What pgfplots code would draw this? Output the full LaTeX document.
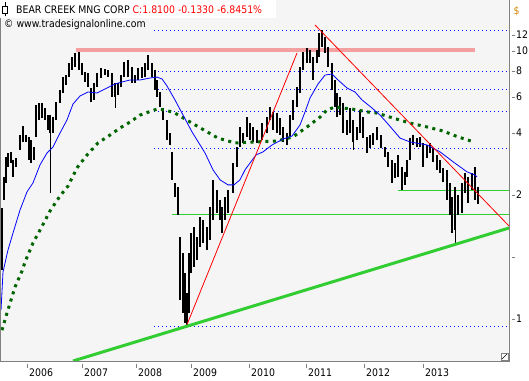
\documentclass[border=0pt]{standalone}
\usepackage{fontspec}
\setmainfont{DejaVu Sans Condensed}
\usepackage{pgfplots}
\pgfplotsset{compat=1.18}
\definecolor{bg}{RGB}{245,245,245}
\definecolor{salmonline}{RGB}{245,160,160}
\definecolor{lgreen}{RGB}{50,205,50}
\definecolor{dgreen}{RGB}{0,100,0}
\definecolor{axgray}{RGB}{128,128,128}
\definecolor{dollar}{RGB}{204,136,0}
\begin{document}
\begin{tikzpicture}[x=1pt,y=1pt,font=\fontsize{10.4}{12}\selectfont]
\useasboundingbox (0,-19) rectangle (529,361);
\begin{axis}[
  at={(0,0)}, anchor=south west,
  width=509pt, height=361pt, scale only axis,
  xmin=2005.523, xmax=2014.520,
  ymode=log, ymin=0.3124, ymax=17.71,
  axis background/.style={fill=bg},
  axis line style={draw=none},
  unbounded coords=jump,
  tick align=outside, major tick length=4pt,
  xtick pos=left, ytick pos=right,
  yticklabel pos=right,
  yminorticks=false, xminorticks=false,
  xtick={2006,2006.973,2007.927,2008.899,2009.924,2010.931,2011.957,2013},
  xticklabels={2006,2007,2008,2009,2010,2011,2012,2013},
  ytick={0.5,1,2,4,6,8,10,12},
  yticklabels={1,,2,4,6,8,10,12},
  xtick style={draw=axgray, yshift=-3pt},
  ytick style={draw=axgray, xshift=2.5pt},
  xticklabel style={anchor=north west, inner sep=0pt, xshift=2pt, yshift=-4pt},
  yticklabel style={anchor=west, inner sep=0pt, xshift=3pt},
  tick label style={font=\fontsize{10.4}{12}\selectfont},
  /pgf/number format/assume math mode=true,
]
% fibonacci dotted levels
\addplot[blue, line width=0.8pt, dash pattern=on 0.8pt off 3.2pt] coordinates {(2008.245,12.57)(2014.52,12.57)};
\addplot[blue, line width=0.8pt, dash pattern=on 0.8pt off 3.2pt] coordinates {(2008.245,7.96)(2014.52,7.96)};
\addplot[blue, line width=0.8pt, dash pattern=on 0.8pt off 3.2pt] coordinates {(2008.245,6.51)(2014.52,6.51)};
\addplot[blue, line width=0.8pt, dash pattern=on 0.8pt off 3.2pt] coordinates {(2008.245,5.12)(2014.52,5.12)};
\addplot[blue, line width=0.8pt, dash pattern=on 0.8pt off 3.2pt] coordinates {(2008.245,3.35)(2014.52,3.35)};
\addplot[blue, line width=0.8pt, dash pattern=on 0.8pt off 3.2pt] coordinates {(2008.245,0.462)(2014.52,0.462)};
% resistance / support
\addplot[salmonline, line width=3.5pt] coordinates {(2006.866,10.1)(2013.920,10.1)};
\addplot[lgreen, line width=1pt] coordinates {(2012.558,2.11)(2014.52,2.11)};
\addplot[lgreen, line width=1pt] coordinates {(2008.563,1.60)(2014.52,1.60)};
% price bars (low, high)
\addplot[black, line width=2.8pt, line cap=butt] coordinates {
(2005.558,0.864)(2005.558,1.73)(2005.558,nan)
(2005.594,1.89)(2005.594,2.45)(2005.594,nan)
(2005.629,2.29)(2005.629,3.06)(2005.629,nan)
(2005.664,2.74)(2005.664,3.20)(2005.664,nan)
(2005.717,2.86)(2005.717,3.24)(2005.717,nan)
(2005.753,2.45)(2005.753,2.96)(2005.753,nan)
(2005.806,2.74)(2005.806,3.03)(2005.806,nan)
(2005.877,3.31)(2005.877,3.91)(2005.877,nan)
(2005.930,3.62)(2005.930,4.33)(2005.930,nan)
(2005.983,3.62)(2005.983,3.91)(2005.983,nan)
(2006.036,2.96)(2006.036,3.83)(2006.036,nan)
(2006.071,2.86)(2006.071,3.70)(2006.071,nan)
(2006.124,2.96)(2006.124,3.42)(2006.124,nan)
(2006.159,3.83)(2006.159,5.47)(2006.159,nan)
(2006.212,4.63)(2006.212,5.60)(2006.212,nan)
(2006.265,4.73)(2006.265,5.60)(2006.265,nan)
(2006.318,4.63)(2006.318,5.29)(2006.318,nan)
(2006.372,4.14)(2006.372,4.89)(2006.372,nan)
(2006.407,4.00)(2006.407,4.89)(2006.407,nan)
(2006.460,4.00)(2006.460,4.78)(2006.460,nan)
(2006.513,4.63)(2006.513,5.66)(2006.513,nan)
(2006.584,5.60)(2006.584,6.47)(2006.584,nan)
(2006.637,6.26)(2006.637,7.48)(2006.637,nan)
(2006.690,6.85)(2006.690,7.65)(2006.690,nan)
(2006.743,7.48)(2006.743,8.76)(2006.743,nan)
(2006.796,8.10)(2006.796,9.37)(2006.796,nan)
(2006.849,8.37)(2006.849,9.79)(2006.849,nan)
(2006.919,8.10)(2006.919,9.90)(2006.919,nan)
(2006.973,7.65)(2006.973,8.76)(2006.973,nan)
(2007.026,7.08)(2007.026,7.92)(2007.026,nan)
(2007.079,6.69)(2007.079,7.83)(2007.079,nan)
(2007.132,5.66)(2007.132,6.62)(2007.132,nan)
(2007.185,5.79)(2007.185,7.00)(2007.185,nan)
(2007.238,6.69)(2007.238,7.83)(2007.238,nan)
(2007.308,7.40)(2007.308,8.28)(2007.308,nan)
(2007.379,7.65)(2007.379,8.19)(2007.379,nan)
(2007.432,7.48)(2007.432,8.10)(2007.432,nan)
(2007.503,5.99)(2007.503,7.83)(2007.503,nan)
(2007.556,5.99)(2007.556,7.00)(2007.556,nan)
(2007.609,6.12)(2007.609,7.00)(2007.609,nan)
(2007.662,6.69)(2007.662,7.65)(2007.662,nan)
(2007.715,7.48)(2007.715,8.86)(2007.715,nan)
(2007.786,7.48)(2007.786,9.05)(2007.786,nan)
(2007.856,7.00)(2007.856,8.37)(2007.856,nan)
(2007.909,7.00)(2007.909,7.65)(2007.909,nan)
(2007.962,7.24)(2007.962,8.28)(2007.962,nan)
(2008.033,7.40)(2008.033,8.37)(2008.033,nan)
(2008.086,7.48)(2008.086,8.76)(2008.086,nan)
(2008.139,8.10)(2008.139,9.58)(2008.139,nan)
(2008.210,7.48)(2008.210,8.76)(2008.210,nan)
(2008.263,6.47)(2008.263,8.10)(2008.263,nan)
(2008.298,5.99)(2008.298,7.24)(2008.298,nan)
(2008.351,5.35)(2008.351,6.33)(2008.351,nan)
(2008.404,4.63)(2008.404,5.29)(2008.404,nan)
(2008.475,3.70)(2008.475,4.63)(2008.475,nan)
(2008.528,3.50)(2008.528,4.00)(2008.528,nan)
(2008.563,2.37)(2008.563,3.24)(2008.563,nan)
(2008.616,1.96)(2008.616,2.29)(2008.616,nan)
(2008.670,1.60)(2008.670,2.19)(2008.670,nan)
(2008.705,0.617)(2008.705,1.25)(2008.705,nan)
(2008.758,0.534)(2008.758,1.045)(2008.758,nan)
(2008.793,0.478)(2008.793,0.836)(2008.793,nan)
(2008.829,0.457)(2008.829,0.668)(2008.829,nan)
(2008.864,0.534)(2008.864,1.045)(2008.864,nan)
(2008.899,0.836)(2008.899,1.31)(2008.899,nan)
(2008.952,0.894)(2008.952,1.40)(2008.952,nan)
(2009.005,0.966)(2009.005,1.25)(2009.005,nan)
(2009.058,1.12)(2009.058,1.56)(2009.058,nan)
(2009.111,1.17)(2009.111,1.51)(2009.111,nan)
(2009.182,1.08)(2009.182,1.40)(2009.182,nan)
(2009.235,1.21)(2009.235,1.75)(2009.235,nan)
(2009.288,1.51)(2009.288,2.37)(2009.288,nan)
(2009.359,1.63)(2009.359,2.12)(2009.359,nan)
(2009.412,1.51)(2009.412,1.89)(2009.412,nan)
(2009.447,1.31)(2009.447,1.75)(2009.447,nan)
(2009.500,1.51)(2009.500,1.96)(2009.500,nan)
(2009.553,1.63)(2009.553,2.12)(2009.553,nan)
(2009.642,2.05)(2009.642,2.86)(2009.642,nan)
(2009.712,2.74)(2009.712,3.42)(2009.712,nan)
(2009.765,3.42)(2009.765,4.28)(2009.765,nan)
(2009.818,3.58)(2009.818,4.00)(2009.818,nan)
(2009.889,3.83)(2009.889,4.78)(2009.889,nan)
(2009.942,3.70)(2009.942,4.47)(2009.942,nan)
(2009.995,3.62)(2009.995,4.28)(2009.995,nan)
(2010.066,3.58)(2010.066,4.14)(2010.066,nan)
(2010.154,3.70)(2010.154,4.47)(2010.154,nan)
(2010.243,4.00)(2010.243,4.78)(2010.243,nan)
(2010.296,4.63)(2010.296,5.35)(2010.296,nan)
(2010.349,4.14)(2010.349,5.06)(2010.349,nan)
(2010.420,4.00)(2010.420,5.00)(2010.420,nan)
(2010.473,3.91)(2010.473,4.73)(2010.473,nan)
(2010.526,3.62)(2010.526,4.28)(2010.526,nan)
(2010.596,3.50)(2010.596,4.00)(2010.596,nan)
(2010.649,3.83)(2010.649,4.89)(2010.649,nan)
(2010.702,4.63)(2010.702,5.79)(2010.702,nan)
(2010.773,5.35)(2010.773,6.69)(2010.773,nan)
(2010.826,6.26)(2010.826,8.37)(2010.826,nan)
(2010.879,8.10)(2010.879,9.90)(2010.879,nan)
(2010.950,8.76)(2010.950,10.35)(2010.950,nan)
(2011.003,8.76)(2011.003,10.13)(2011.003,nan)
(2011.056,7.24)(2011.056,9.37)(2011.056,nan)
(2011.127,8.76)(2011.127,10.13)(2011.127,nan)
(2011.162,9.37)(2011.162,12.24)(2011.162,nan)
(2011.215,10.47)(2011.215,12.66)(2011.215,nan)
(2011.268,9.79)(2011.268,11.70)(2011.268,nan)
(2011.321,8.37)(2011.321,10.47)(2011.321,nan)
(2011.392,6.47)(2011.392,8.76)(2011.392,nan)
(2011.445,5.35)(2011.445,7.24)(2011.445,nan)
(2011.480,4.78)(2011.480,6.26)(2011.480,nan)
(2011.533,4.89)(2011.533,5.99)(2011.533,nan)
(2011.586,4.00)(2011.586,5.60)(2011.586,nan)
(2011.657,3.91)(2011.657,4.63)(2011.657,nan)
(2011.710,4.00)(2011.710,5.29)(2011.710,nan)
(2011.763,3.60)(2011.763,4.63)(2011.763,nan)
(2011.834,3.70)(2011.834,4.28)(2011.834,nan)
(2011.887,4.00)(2011.887,5.18)(2011.887,nan)
(2011.940,3.78)(2011.940,4.78)(2011.940,nan)
(2012.010,3.20)(2012.010,3.83)(2012.010,nan)
(2012.063,3.38)(2012.063,3.91)(2012.063,nan)
(2012.117,3.50)(2012.117,4.00)(2012.117,nan)
(2012.187,3.70)(2012.187,4.28)(2012.187,nan)
(2012.258,3.38)(2012.258,3.91)(2012.258,nan)
(2012.329,3.06)(2012.329,3.42)(2012.329,nan)
(2012.382,2.74)(2012.382,3.24)(2012.382,nan)
(2012.452,2.29)(2012.452,2.96)(2012.452,nan)
(2012.505,2.42)(2012.505,2.86)(2012.505,nan)
(2012.558,2.45)(2012.558,3.13)(2012.558,nan)
(2012.629,2.12)(2012.629,2.74)(2012.629,nan)
(2012.682,2.24)(2012.682,2.59)(2012.682,nan)
(2012.718,2.45)(2012.718,2.96)(2012.718,nan)
(2012.771,2.96)(2012.771,3.78)(2012.771,nan)
(2012.824,3.50)(2012.824,3.91)(2012.824,nan)
(2012.894,3.42)(2012.894,3.78)(2012.894,nan)
(2012.947,3.42)(2012.947,3.83)(2012.947,nan)
(2013.000,2.74)(2013.000,3.58)(2013.000,nan)
(2013.071,3.03)(2013.071,3.50)(2013.071,nan)
(2013.124,3.20)(2013.124,3.58)(2013.124,nan)
(2013.177,2.90)(2013.177,3.38)(2013.177,nan)
(2013.248,2.65)(2013.248,3.13)(2013.248,nan)
(2013.301,2.56)(2013.301,2.96)(2013.301,nan)
(2013.354,2.31)(2013.354,2.71)(2013.354,nan)
(2013.425,1.89)(2013.425,2.65)(2013.425,nan)
(2013.478,1.60)(2013.478,2.29)(2013.478,nan)
(2013.513,1.31)(2013.513,1.96)(2013.513,nan)
(2013.566,1.35)(2013.566,2.19)(2013.566,nan)
(2013.619,1.60)(2013.619,2.00)(2013.619,nan)
(2013.690,1.63)(2013.690,2.29)(2013.690,nan)
(2013.743,2.05)(2013.743,2.56)(2013.743,nan)
(2013.796,1.83)(2013.796,2.45)(2013.796,nan)
(2013.867,2.12)(2013.867,2.56)(2013.867,nan)
(2013.920,1.89)(2013.920,2.74)(2013.920,nan)
(2013.973,1.81)(2013.973,2.19)(2013.973,nan)
};
% thin wicks
\addplot[black, line width=0.8pt] coordinates {
(2006.407,2.05)(2006.407,4.00)(2006.407,nan)
(2007.556,5.29)(2007.556,5.99)(2007.556,nan)
(2011.763,3.31)(2011.763,3.60)(2011.763,nan)
(2013.566,1.17)(2013.566,1.35)(2013.566,nan)
};
% long moving average (dotted dark green)
\addplot[dgreen, line width=3pt, dash pattern=on 3pt off 4.5pt] coordinates {
(2005.558,0.441)(2005.647,0.535)(2005.735,0.640)(2005.788,0.714)(2005.912,0.855)(2005.965,0.945)(2006.106,1.169)(2006.248,1.38)(2006.407,1.672)(2006.584,1.98)(2006.725,2.21)(2006.884,2.71)(2007.061,3.13)(2007.255,3.58)(2007.467,3.91)(2007.644,4.23)(2007.821,4.52)(2007.998,4.89)(2008.298,5.23)(2008.440,5.18)(2008.616,5.00)(2008.970,4.38)(2009.376,3.78)(2009.677,3.58)(2010.030,3.62)(2010.420,3.66)(2010.702,3.83)(2010.950,4.28)(2011.180,4.78)(2011.303,5.18)(2011.445,5.35)(2011.586,5.29)(2011.745,5.23)(2012.028,5.06)(2012.187,5.00)(2012.470,4.73)(2012.771,4.47)(2013.071,4.28)(2013.354,4.09)(2013.619,3.83)(2013.902,3.62)
};
% short moving average (blue)
\addplot[blue, line width=0.8pt] coordinates {
(2005.541,0.552)(2005.576,0.845)(2005.664,1.081)(2005.753,1.307)(2005.877,1.691)(2006.000,2.07)(2006.106,2.29)(2006.230,2.80)(2006.354,3.20)(2006.460,3.42)(2006.584,4.00)(2006.707,4.63)(2006.813,5.53)(2006.937,6.05)(2007.079,6.33)(2007.238,6.26)(2007.414,6.62)(2007.556,6.92)(2007.680,7.08)(2007.821,7.24)(2007.998,7.24)(2008.175,7.40)(2008.298,7.48)(2008.387,7.32)(2008.475,6.77)(2008.616,5.79)(2008.758,4.89)(2008.917,4.05)(2009.147,3.20)(2009.288,2.65)(2009.412,2.37)(2009.553,2.24)(2009.659,2.24)(2009.765,2.37)(2009.854,2.65)(2009.942,2.86)(2010.048,3.13)(2010.172,3.24)(2010.331,3.50)(2010.526,3.74)(2010.685,3.87)(2010.826,4.38)(2010.914,5.06)(2011.003,5.92)(2011.144,6.92)(2011.268,7.65)(2011.392,7.74)(2011.498,7.24)(2011.657,6.62)(2011.798,6.33)(2011.922,5.79)(2012.099,5.29)(2012.240,4.89)(2012.382,4.42)(2012.594,3.78)(2012.771,3.62)(2013.071,3.50)(2013.301,3.24)(2013.531,2.90)(2013.778,2.59)(2013.920,2.50)(2013.955,2.45)
};
% trend lines
\addplot[red, line width=0.8pt] coordinates {(2008.811,0.457)(2010.773,9.79)};
\addplot[red, line width=0.8pt] coordinates {(2011.091,13.39)(2014.52,1.414)};
\addplot[lgreen, line width=3pt] coordinates {(2006.813,0.3124)(2014.52,1.383)};
\end{axis}
% frame
\draw[axgray, line width=1pt] (0.5,361) -- (0.5,0) -- (509.5,0) -- (509.5,361);
% header
\fill[white] (0,343) rectangle (276,361);
\draw[black, line width=0.8pt] (5,344.5) -- (5,358.5);
\filldraw[fill=white, draw=black, line width=0.8pt] (2.5,348) rectangle (7.5,355);
\node[anchor=west, inner sep=0pt] at (16,351) {BEAR CREEK MNG CORP \textcolor{red}{C:1.8100 -0.1330 -6.8451\%}};
\node[anchor=west, inner sep=0pt] at (4,336) {© www.tradesignalonline.com};
\node[text=dollar, inner sep=0pt] at (516.5,350) {\$};
% resize grip
\filldraw[fill=white, draw=axgray, line width=0.6pt] (501,1) rectangle (508,8);
\draw[black, line width=0.6pt] (502,2) -- (507,7);
\end{tikzpicture}
\end{document}
